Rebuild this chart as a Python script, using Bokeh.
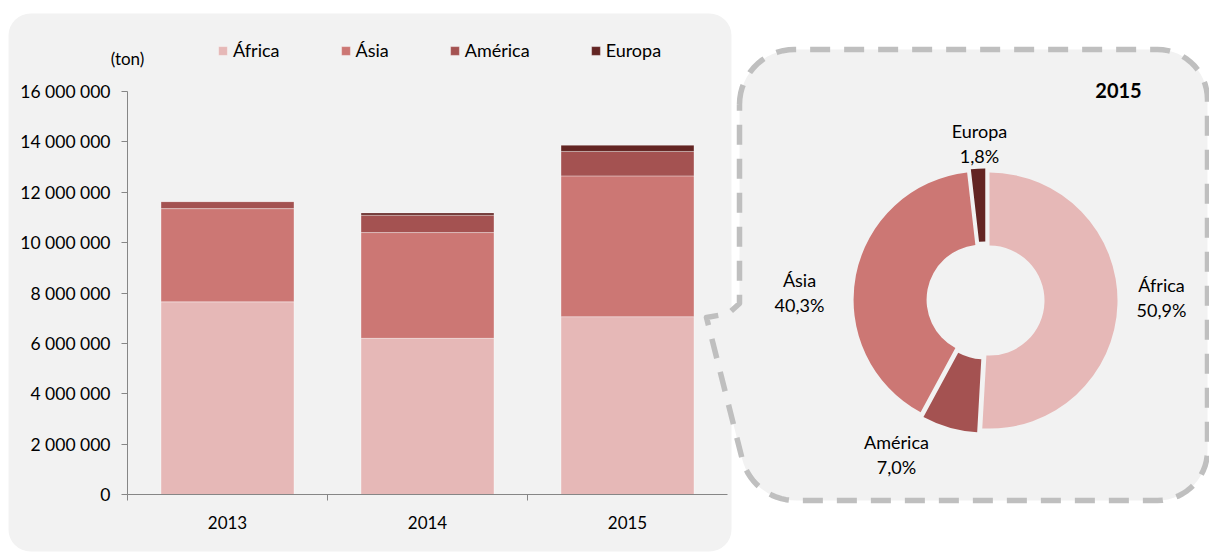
import numpy as np
from bokeh.plotting import figure
from bokeh.models import (Range1d, FixedTicker, LinearAxis, Label, Grid,
                          BoxAnnotation, ColumnDataSource)
from bokeh.embed import file_html
from bokeh.resources import INLINE

# ---------------- data ----------------
years = ["2013", "2014", "2015"]
regions = ["África", "Ásia", "América", "Europa"]
africa = [7650000, 6200000, 7060000]
asia = [3700000, 4200000, 5590000]
america = [280000, 690000, 970000]
europa = [0, 90000, 250000]
y_ticks = [0, 2000000, 4000000, 6000000, 8000000, 10000000, 12000000, 14000000, 16000000]
unit_label = "(ton)"

pie_title = "2015"
pie_labels = ["África", "América", "Ásia", "Europa"]
pie_pcts = [50.9, 7.0, 40.3, 1.8]

# ---------------- style / layout ----------------
FONT = "Lato"
bar_colors = ["#e6b8b7", "#cc7774", "#a45251", "#632523"]
pie_colors = {"África": "#e6b8b7", "Ásia": "#cc7774", "América": "#a45251", "Europa": "#632523"}
PANEL = "#f2f2f2"
AXIS = "#868686"

W, H = 1209, 553
AX_X, AX_Y = 127, 494          # pixel position of the bar-chart axes origin
PX_PER_CAT = 200.0
PX_PER_UNIT_Y = 403.0 / 16e6

p = figure(width=W, height=H, output_backend="svg", toolbar_location=None,
           x_range=Range1d(-AX_X / PX_PER_CAT, (W - AX_X) / PX_PER_CAT),
           y_range=Range1d(-(H - AX_Y) / PX_PER_UNIT_Y, AX_Y / PX_PER_UNIT_Y),
           min_border=0, x_axis_location=None, y_axis_location=None, title=None)
p.outline_line_color = None
p.background_fill_color = "white"
p.border_fill_color = "white"
for r in p.center:
    if isinstance(r, Grid):
        r.visible = False
# pixel coordinate system for decorations (y negated: page y down)
p.extra_x_ranges = {"px": Range1d(0, W)}
p.extra_y_ranges = {"px": Range1d(-H, 0)}

# --- background panels ---
p.add_layout(BoxAnnotation(left=8, right=731, top=-13, bottom=-551,
                           x_range_name="px", y_range_name="px",
                           fill_color=PANEL, fill_alpha=1, line_color=None,
                           border_radius=22, level="underlay"))


def arc(cx, cy, r, a0, a1, n=16):
    t = np.radians(np.linspace(a0, a1, n))
    return list(cx + r * np.cos(t)), list(cy + r * np.sin(t))


pts_x, pts_y = [], []
for seg in [
    arc(794, 104, 55, 180, 270),      # top-left corner
    arc(1157, 99, 50, 270, 360),      # top-right corner
    arc(1157, 450, 50, 0, 90),        # bottom-right corner
    arc(795, 445, 55, 90, 165),       # bottom-left corner
]:
    pts_x += seg[0]
    pts_y += seg[1]
pts_x += [706, 728, 739, pts_x[0]]
pts_y += [317, 313, 303, pts_y[0]]
pts_y = [-v for v in pts_y]
p.patch(pts_x, pts_y, fill_color=PANEL, line_color=None,
        x_range_name="px", y_range_name="px")
p.line(pts_x, pts_y, line_color="#bfbfbf", line_width=5.5, line_dash="20 14",
       line_join="round", x_range_name="px", y_range_name="px")

# ---------------- bars ----------------
cat_pos = np.arange(len(years)) + 0.5
src = ColumnDataSource(dict(x=cat_pos, africa=africa, asia=asia,
                            america=america, europa=europa))
p.vbar_stack(["africa", "asia", "america", "europa"], x="x", width=0.665,
             source=src, fill_color=bar_colors, line_color="white",
             line_alpha=0.35, line_width=1, legend_label=regions)

# axes (fixed at the chart origin)
yaxis = LinearAxis(ticker=FixedTicker(ticks=y_ticks, minor_ticks=[]),
                   bounds=(0, y_ticks[-1]), fixed_location=0)
yaxis.major_label_overrides = {t: f"{t:,}".replace(",", " ") for t in y_ticks}
yaxis.axis_line_color = AXIS
yaxis.major_tick_line_color = AXIS
yaxis.major_tick_out = 6
yaxis.major_tick_in = 0
yaxis.major_label_standoff = 11
yaxis.major_label_text_font = FONT
yaxis.major_label_text_font_size = "17.5px"
yaxis.major_label_text_color = "black"
p.add_layout(yaxis, "left")

xaxis = LinearAxis(ticker=FixedTicker(ticks=list(cat_pos),
                                      minor_ticks=list(np.arange(len(years)).astype(float))),
                   bounds=(0, len(years)), fixed_location=0)
xaxis.major_label_overrides = {float(c): y for c, y in zip(cat_pos, years)}
xaxis.axis_line_color = AXIS
xaxis.major_tick_out = 0
xaxis.major_tick_in = 0
xaxis.minor_tick_out = 6
xaxis.minor_tick_in = 0
xaxis.minor_tick_line_color = AXIS
xaxis.major_label_standoff = 15
xaxis.major_label_text_font = FONT
xaxis.major_label_text_font_size = "17px"
xaxis.major_label_text_color = "black"
p.add_layout(xaxis, "below")

leg = p.legend[0]
leg.orientation = "horizontal"
leg.location = (217, 492)
leg.glyph_width = 11
leg.glyph_height = 11
leg.label_standoff = 5
leg.spacing = 60
leg.padding = 0
leg.margin = 0
leg.label_height = 11
leg.label_text_font = FONT
leg.label_text_font_size = "18px"
leg.label_text_color = "black"
leg.border_line_color = None
leg.background_fill_alpha = 0

p.add_layout(Label(x=AX_X, y=-58, text=unit_label, x_range_name="px", y_range_name="px",
                   text_align="center", text_baseline="middle",
                   text_font=FONT, text_font_size="17px", text_color="black"))

# ---------------- donut ----------------
pcts = np.array(pie_pcts)
frac = pcts / pcts.sum()
ends = np.pi / 2 - 2 * np.pi * np.cumsum(frac)
starts = ends + 2 * np.pi * frac
mid = (starts + ends) / 2
cx, cy, explode = 985, -300, 4
psrc = ColumnDataSource(dict(x=cx + explode * np.cos(mid), y=cy + explode * np.sin(mid),
                             s=ends, e=starts,
                             c=[pie_colors[k] for k in pie_labels]))
p.annular_wedge(x="x", y="y", inner_radius=55, outer_radius=128,
                inner_radius_units="screen", outer_radius_units="screen",
                start_angle="s", end_angle="e", direction="anticlock",
                fill_color="c", line_color=None, source=psrc,
                x_range_name="px", y_range_name="px")

label_pos = {"África": (1161, 284), "América": (896, 441),
             "Ásia": (799, 279), "Europa": (979, 130)}
for name, pct in zip(pie_labels, pie_pcts):
    lx, ly = label_pos[name]
    p.add_layout(Label(x=lx, y=-ly, text=name, x_range_name="px", y_range_name="px",
                       text_align="center", text_baseline="middle",
                       text_font=FONT, text_font_size="18px", text_color="black"))
    p.add_layout(Label(x=lx, y=-(ly + 25), text=f"{pct:.1f}".replace(".", ",") + "%",
                       x_range_name="px", y_range_name="px",
                       text_align="center", text_baseline="middle",
                       text_font=FONT, text_font_size="18px", text_color="black"))

p.add_layout(Label(x=1118, y=-90, text=pie_title, x_range_name="px", y_range_name="px",
                   text_align="center", text_baseline="middle",
                   text_font=FONT, text_font_size="20px", text_font_style="bold",
                   text_color="black"))

open("out.html", "w").write(file_html(p, INLINE))
